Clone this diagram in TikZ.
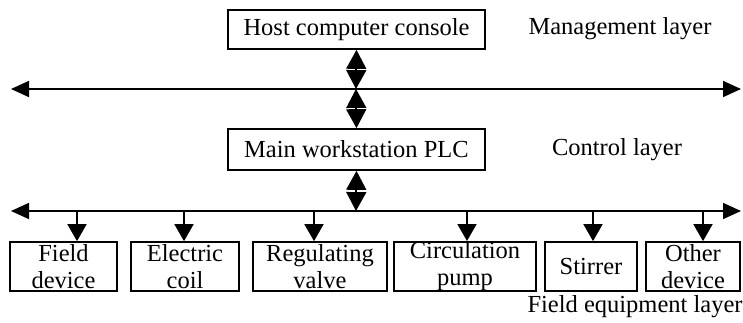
\documentclass[tikz,border=0pt]{standalone}
\usepackage{fontspec}
\setmainfont{Liberation Serif}
\usetikzlibrary{arrows.meta,calc}
\begin{document}
\begin{tikzpicture}[x=1pt,y=-1pt,
  box/.style={draw,line width=1.7pt,inner sep=0pt,align=center,font=\fontsize{24.5}{27}\selectfont},
  lbl/.style={inner sep=0pt,font=\fontsize{24.5}{27}\selectfont},
  bus/.style={line width=1.7pt,{Triangle[width=16pt,length=18pt]}-{Triangle[width=16pt,length=18pt]}},
  dbl/.style={line width=1.7pt,{Triangle[width=20pt,length=19pt]}-{Triangle[width=20pt,length=19pt]}},
  gap/.style={white,line width=1.2pt},
  down/.style={line width=1.7pt,-{Triangle[width=19pt,length=17pt]}}]
\useasboundingbox (0,0) rectangle (743,322);
% boxes
\node[box,minimum width=257pt,minimum height=39pt] (host) at (356.5,29.5) {Host computer console};
\node[box,minimum width=257pt,minimum height=41pt] (main) at (356.5,149.5) {Main workstation PLC};
\node[box,minimum width=107pt,minimum height=49pt] (field) at (63.5,266.5) {Field\\device};
\node[box,minimum width=108pt,minimum height=49pt] (coil) at (185,266.5) {Electric\\coil};
\node[box,minimum width=134pt,minimum height=49pt] (valve) at (320,266.5) {Regulating\\valve};
\node[box,minimum width=142pt,minimum height=49pt] (pump) at (465,266.5) {Circulation\\pump};
\node[box,minimum width=92pt,minimum height=49pt] (stir) at (591,266.5) {Stirrer};
\node[box,minimum width=94pt,minimum height=49pt] (other) at (693,266.5) {Other\\device};
% labels
\node[lbl] (ml) at (620,29) {Management layer};
\node[lbl] (cl) at (617,150) {Control layer};
\node[lbl] (fl) at (635,307) {Field equipment layer};
% buses
\coordinate (b1l) at (11,89);
\coordinate (b1r) at (741,89);
\coordinate (b2l) at (11,211);
\coordinate (b2r) at (741,211);
\draw[bus] (b1l) -- (b1r);
\draw[bus] (b2l) -- (b2r);
% vertical double arrows
\coordinate (b1c) at (356,89);
\coordinate (b2c) at (356,211);
\draw[dbl] (host.south) -- (b1c);
\draw[dbl] (b1c) -- (main.north);
\draw[dbl] (main.south) -- (b2c);
\foreach \a/\b in {host.south/b1c,b1c/main.north,main.south/b2c}{
  \draw[gap] ($(\a)!0.5!(\b)+(-7,0)$) -- ($(\a)!0.5!(\b)+(7,0)$);
  \draw[line width=1.7pt] ($(\a)!0.5!(\b)+(0,-3)$) -- ($(\a)!0.5!(\b)+(0,3)$);
}
% drops
\foreach \n/\x in {field/77,coil/184,valve/314,pump/467,stir/593,other/703}{
  \coordinate (t\n) at (\x,211);
  \draw[down] (t\n) -- (t\n |- \n.north);
}
\end{tikzpicture}
\end{document}
